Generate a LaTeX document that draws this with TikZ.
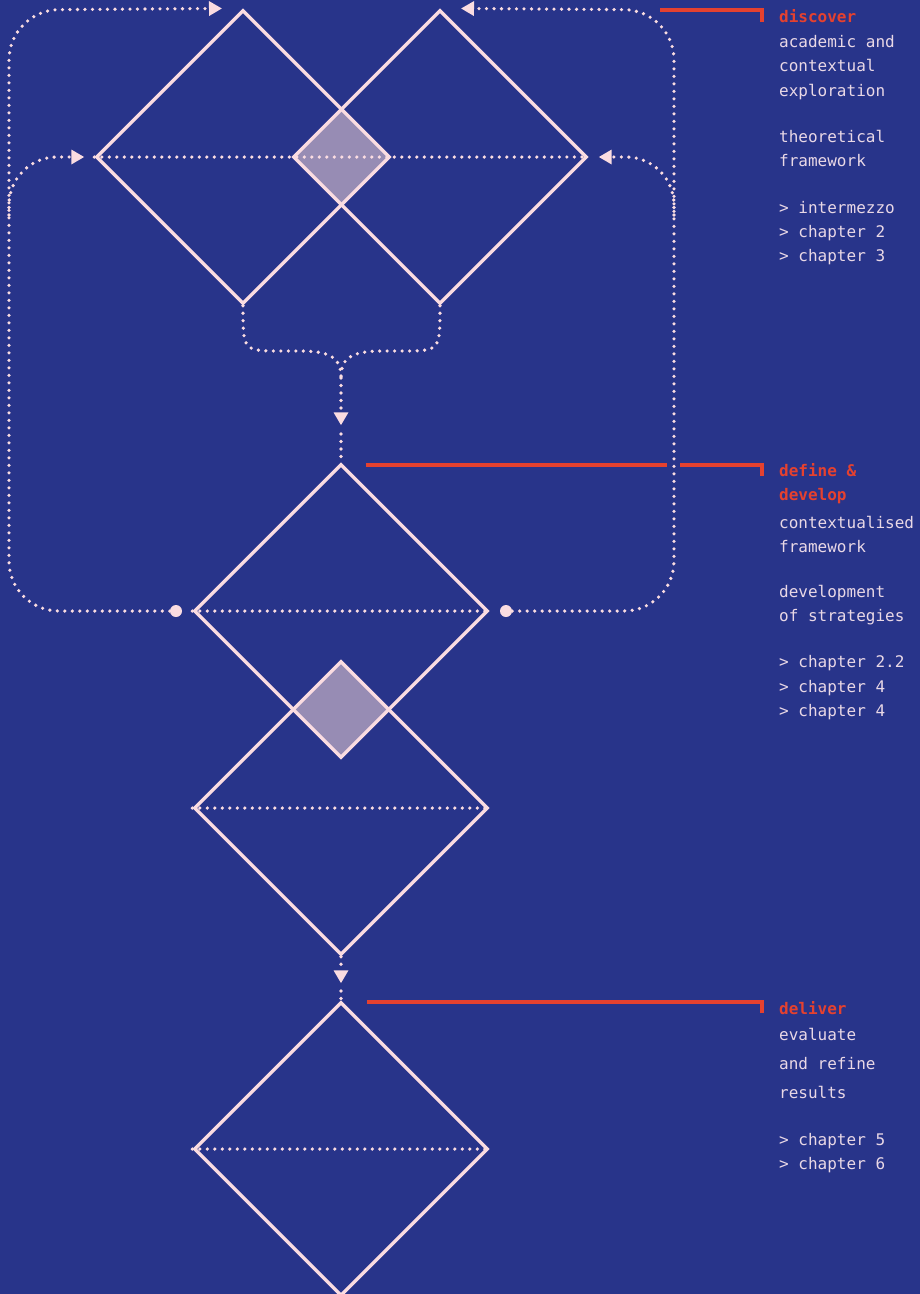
\documentclass[tikz,border=0pt]{standalone}
\usepackage{fontspec}
\setmonofont{DejaVu Sans Mono}
\usetikzlibrary{arrows.meta}
\usetikzlibrary{shapes.geometric}
\definecolor{bg}{HTML}{28348A}
\definecolor{rose}{HTML}{FADCE1}
\definecolor{lilac}{HTML}{978CB4}
\definecolor{accent}{HTML}{E5412F}
\definecolor{textc}{HTML}{E9D8E6}
\begin{document}
\begin{tikzpicture}[x=1pt,y=-1pt,>/.tip={Triangle[length=13pt,width=14pt]},
	phase/.style={draw=rose,line width=3.4pt,shape=diamond,minimum size=294pt,inner sep=0pt},
	dots/.style={draw=rose,line width=3.6pt,line cap=round,dash pattern=on 0pt off 7.5pt},
	dotend/.style={circle,fill=rose,minimum size=12pt,inner sep=0pt},
	leader/.style={draw=accent,line width=3.2pt},
	txt/.style={anchor=base west,inner sep=0pt,text=textc,font=\ttfamily\fontsize{16}{20}\selectfont},
	head/.style={txt,text=accent,font=\ttfamily\bfseries\fontsize{16}{20}\selectfont}]
	\fill[bg] (0,0) rectangle (920,1294);
	\useasboundingbox (0,0) rectangle (920,1294);
	% overlaps first, outlines on top
	\fill[lilac] (293,157) -- (341.5,108.5) -- (390,157) -- (341.5,205.5) -- cycle;
	\fill[lilac] (292.5,709.5) -- (341,661) -- (389.5,709.5) -- (341,758) -- cycle;
	\node (explore) [phase] at (243,157) {};
	\node (theory) [phase] at (440,157) {};
	\node (define) [phase] at (341,611) {};
	\node (develop) [phase] at (341,808) {};
	\node (deliver) [phase] at (341,1149) {};
	\node (ldot) [dotend] at (176,611) {};
	\node (rdot) [dotend] at (506,611) {};
	\draw[dots] (explore.west) -- (theory.east);
	\draw[dots] (define.west) -- (define.east);
	\draw[dots] (develop.west) -- (develop.east);
	\draw[dots] (deliver.west) -- (deliver.east);
	% feedback loops
	\draw[dots,rounded corners=50pt,->,shorten >=21pt] (ldot) -- (9,611) -- (9,10) -- (explore.north);
	\draw[dots,rounded corners=48pt,->,shorten >=10pt] (9,215) -- (9,157) -- (explore.west);
	\draw[dots,rounded corners=50pt,->,shorten >=21pt] (rdot) -- (674,611) -- (674,10) -- (theory.north);
	\draw[dots,rounded corners=48pt,->,shorten >=10pt] (674,215) -- (674,157) -- (theory.east);
	% merge into define
	\draw[dots] (explore.south) -- (243,308) .. controls (243,351) .. (282,351) -- (300,351) .. controls (334,351) and (341,360) .. (341,378);
	\draw[dots] (theory.south) -- (440,308) .. controls (440,351) .. (401,351) -- (383,351) .. controls (348,351) and (341,360) .. (341,378);
	\draw[dots,->,shorten >=37pt] (341,378) -- (define.north);
	\draw[dots] (341,434) -- (define.north);
	\draw[dots,->,shorten >=17pt] (develop.south) -- (deliver.north);
	\draw[dots] (341,991) -- (deliver.north);
	% leaders
	\draw[leader] (660,10) -| (762,22);
	\draw[leader] (366,465) -- (667,465);
	\draw[leader] (680,465) -| (762,476);
	\draw[leader] (367,1002) -| (762,1013);
	% text
	\node (h1) [head] at (779,22) {discover};
	\foreach \y/\t [count=\i] in {47/academic and,71/contextual,96/exploration,142/theoretical,166/framework,213/> intermezzo,237/> chapter 2,261/> chapter 3}
		\node (a\i) [txt] at (779,\y) {\t};
	\node (h2) [head] at (779,476) {define \&};
	\node (h2b) [head] at (779,500) {develop};
	\foreach \y/\t [count=\i] in {528/contextualised,552/framework,597/development,621/of strategies,667/> chapter 2.2,692/> chapter 4,716/> chapter 4}
		\node (b\i) [txt] at (779,\y) {\t};
	\node (h3) [head] at (779,1014) {deliver};
	\foreach \y/\t [count=\i] in {1040/evaluate,1069/and refine,1098/results,1145/> chapter 5,1169/> chapter 6}
		\node (c\i) [txt] at (779,\y) {\t};
\end{tikzpicture}
\end{document}
